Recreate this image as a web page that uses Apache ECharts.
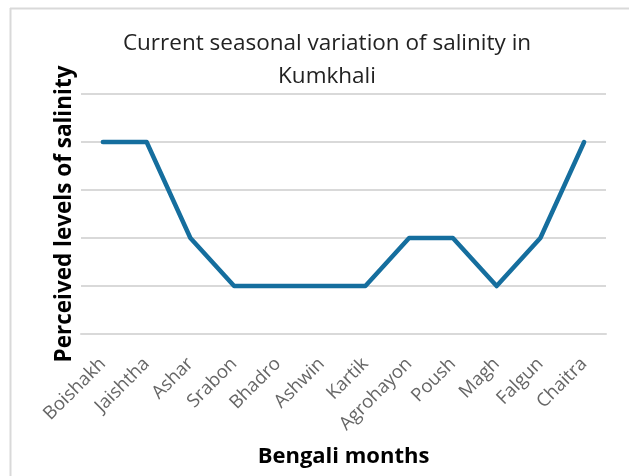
<!DOCTYPE html>
<html>
<head>
<meta charset="utf-8">
<script src="https://cdn.jsdelivr.net/npm/echarts@6/dist/echarts.min.js"></script>
<style>
  html, body { margin: 0; padding: 0; background: #fff; }
  #chart { width: 629px; height: 476px; }
</style>
</head>
<body>
<div id="chart"></div>
<script>
// Bengali months on the x axis
const months = ['Boishakh', 'Jaishtha', 'Ashar', 'Srabon', 'Bhadro', 'Ashwin',
  'Kartik', 'Agrohayon', 'Poush', 'Magh', 'Falgun', 'Chaitra'];
// perceived salinity level (no tick labels shown, gridlines 0..5)
const salinity = [4, 4, 2, 1, 1, 1, 1, 2, 2, 1, 2, 4];

const chart = echarts.init(document.getElementById('chart'));

chart.setOption({
  animation: false,
  title: {
    text: 'Current seasonal variation of salinity in\nKumkhali',
    left: 322,
    top: 22,
    textAlign: 'center',
    textStyle: {
      fontFamily: 'Open Sans',
      fontSize: 22.5,
      fontWeight: 'normal',
      color: '#222',
      lineHeight: 33
    }
  },
  // partial frame of the cropped chart area (left and top edges)
  graphic: [
    { type: 'line', shape: { x1: 10.5, y1: 8, x2: 10.5, y2: 476 }, style: { stroke: '#d9d9d9', lineWidth: 2 } },
    { type: 'line', shape: { x1: 10, y1: 8.5, x2: 629, y2: 8.5 }, style: { stroke: '#d9d9d9', lineWidth: 2 } }
  ],
  grid: { left: 81, right: 23, top: 94, bottom: 142 },
  xAxis: {
    type: 'category',
    data: months,
    boundaryGap: true,
    axisLine: { lineStyle: { color: '#d9d9d9', width: 2 } },
    axisTick: { show: false },
    axisLabel: {
      rotate: 45,
      interval: 0,
      margin: 27,
      fontFamily: 'Open Sans',
      fontSize: 18.5,
      color: '#666',
      padding: [0, 0, 0, 0]
    },
    name: 'Bengali months',
    nameLocation: 'middle',
    nameGap: 112,
    nameTextStyle: {
      fontFamily: 'Open Sans',
      fontSize: 22,
      fontWeight: 'bold',
      color: '#000'
    }
  },
  yAxis: {
    type: 'value',
    min: 0,
    max: 5,
    interval: 1,
    axisLine: { show: false },
    axisTick: { show: false },
    axisLabel: { show: false },
    splitLine: { lineStyle: { color: '#d9d9d9', width: 2 } },
    name: 'Perceived levels of salinity',
    nameLocation: 'middle',
    nameGap: 5,
    nameTextStyle: {
      fontFamily: 'Open Sans',
      fontSize: 22.5,
      fontWeight: 'bold',
      color: '#000'
    }
  },
  series: [{
    type: 'line',
    data: salinity,
    symbol: 'none',
    lineStyle: { color: '#156E9E', width: 4.5, cap: 'round', join: 'round' }
  }]
});
</script>
</body>
</html>
